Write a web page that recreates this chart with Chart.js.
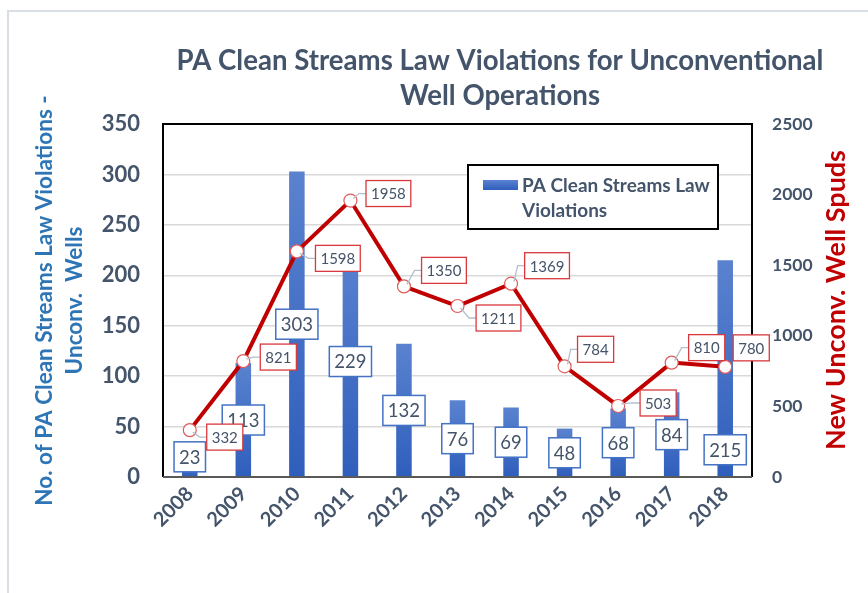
<!DOCTYPE html>
<html><head><meta charset="utf-8">
<script src="https://cdn.jsdelivr.net/npm/chart.js@4"></script>
<style>html,body{margin:0;padding:0;background:#fff;overflow:hidden}canvas{display:block}</style>
</head><body>
<canvas id="c" width="868" height="593"></canvas>
<script>
// ---- data ----
const years = ['2008','2009','2010','2011','2012','2013','2014','2015','2016','2017','2018'];
const violations = [23,113,303,229,132,76,69,48,68,84,215];
const spuds = [332,821,1598,1958,1350,1211,1369,784,503,810,780];
const leftTicks = [0,50,100,150,200,250,300,350];
const rightTicks = [0,500,1000,1500,2000,2500];
const titleLines = ['PA Clean Streams Law Violations for Unconventional','Well Operations'];
const leftTitle = ['No. of PA Clean Streams Law Violations -','Unconv.  Wells'];
const rightTitle = 'New Unconv. Well Spuds';
const legendLines = ['PA Clean Streams Law','Violations'];

// ---- styles ----
const SLATE = '#44546A';
const BLUE_T = '#2E75B6';
const RED = '#C00000';
const FONT = 'Lato';
// bar label anchor (value units) overrides where Excel labels were moved
const barLabelAnchor = {0: 20, 10: 27};
// line label offsets in px from point
const lineLabelOff = [[35,7],[35,-4],[41,7],[38,-7],[40,-16],[41,12],[36,-18],[31,-17],[40,-3],[35,-15],[26,-19]];

function barFill(context){
  const chart = context.chart;
  if (!chart.chartArea || context.type !== 'data') return '#4472C4';
  const y = chart.scales.y;
  const t = y.getPixelForValue(context.raw), b = y.getPixelForValue(0);
  if (!isFinite(t) || !isFinite(b) || Math.abs(b - t) < 1) return '#4472C4';
  const g = chart.ctx.createLinearGradient(0, t, 0, b);
  g.addColorStop(0, '#5A82CF');
  g.addColorStop(1, '#2F5EBC');
  return g;
}

function fitFont(ctx, text, weight, width){
  let s = 30;
  ctx.font = weight + ' ' + s + 'px ' + FONT;
  const w = ctx.measureText(text).width;
  return s * width / w;
}

function box(ctx, cx, cy, w, h, stroke, lw){
  ctx.fillStyle = '#fff';
  ctx.fillRect(cx - w/2, cy - h/2, w, h);
  ctx.strokeStyle = stroke; ctx.lineWidth = lw;
  ctx.strokeRect(cx - w/2, cy - h/2, w, h);
}

const decor = {
  id: 'decor',
  beforeDraw(chart){
    const ctx = chart.ctx;
    ctx.save();
    ctx.fillStyle = '#fff'; ctx.fillRect(0,0,chart.width,chart.height);
    ctx.strokeStyle = '#D9DEE5'; ctx.lineWidth = 2;
    ctx.beginPath(); ctx.moveTo(8, chart.height); ctx.lineTo(8, 11); ctx.lineTo(chart.width, 11); ctx.stroke();
    // title
    const fs = fitFont(ctx, titleLines[0], 'bold', 647);
    ctx.font = 'bold ' + fs.toFixed(2) + 'px ' + FONT;
    ctx.fillStyle = SLATE; ctx.textAlign = 'center'; ctx.textBaseline = 'middle';
    ctx.fillText(titleLines[0], 500, 61);
    ctx.fillText(titleLines[1], 500, 96);
    // right axis title
    ctx.translate(836, 300); ctx.rotate(-Math.PI/2);
    const rfs = fitFont(ctx, rightTitle, 'bold', 300);
    ctx.font = 'bold ' + rfs.toFixed(2) + 'px ' + FONT; ctx.fillStyle = RED;
    ctx.fillText(rightTitle, 0, 0);
    ctx.restore();
  },
  afterDatasetsDraw(chart){
    const ctx = chart.ctx, a = chart.chartArea;
    ctx.save();
    // plot border
    ctx.lineWidth = 2;
    ctx.strokeStyle = '#000';
    ctx.beginPath(); ctx.moveTo(a.left, a.bottom); ctx.lineTo(a.left, a.top); ctx.lineTo(a.right, a.top); ctx.lineTo(a.right, a.bottom); ctx.stroke();
    ctx.strokeStyle = '#595959';
    ctx.beginPath(); ctx.moveTo(a.left, a.bottom); ctx.lineTo(a.right, a.bottom); ctx.stroke();

    // legend
    box(ctx, 593, 197, 250, 64, '#000', 2);
    const lg = ctx.createLinearGradient(0,180,0,190);
    lg.addColorStop(0,'#5A82CF'); lg.addColorStop(1,'#2F5EBC');
    ctx.fillStyle = lg; ctx.fillRect(483, 180, 35, 10);
    const lfs = fitFont(ctx, legendLines[0], 'bold', 188);
    ctx.font = 'bold ' + lfs.toFixed(2) + 'px ' + FONT;
    ctx.fillStyle = SLATE; ctx.textAlign = 'left'; ctx.textBaseline = 'middle';
    ctx.fillText(legendLines[0], 522, 186);
    ctx.fillText(legendLines[1], 522, 211);

    // bar labels
    const ys = chart.scales.y, xs = chart.scales.x, y1 = chart.scales.y1;
    ctx.font = '18.5px ' + FONT; ctx.textAlign = 'center';
    violations.forEach((v, i) => {
      const cx = xs.getPixelForValue(i);
      const av = (i in barLabelAnchor) ? barLabelAnchor[i] : v / 2;
      const cy = ys.getPixelForValue(av);
      const t = String(v);
      const w = ctx.measureText(t).width + 10;
      box(ctx, cx, cy, w, 30, '#4472C4', 1.5);
      ctx.fillStyle = SLATE; ctx.fillText(t, cx, cy + 1);
    });

    // line labels with leader lines
    ctx.font = '15px ' + FONT;
    spuds.forEach((v, i) => {
      const px = xs.getPixelForValue(i), py = y1.getPixelForValue(v);
      const [dx, dy] = lineLabelOff[i];
      const cx = px + dx, cy = py + dy;
      const t = String(v);
      const w = ctx.measureText(t).width + 10;
      const bx = cx - w/2;
      if (bx - px > 12) {
        ctx.strokeStyle = '#B4BFCC'; ctx.lineWidth = 1.3;
        ctx.beginPath(); ctx.moveTo(px + 3, py + (cy > py ? 2 : -2));
        ctx.lineTo(bx - 7, cy); ctx.lineTo(bx, cy); ctx.stroke();
      }
      box(ctx, cx, cy, w, 26, '#D9393C', 1.3);
      ctx.fillStyle = SLATE; ctx.fillText(t, cx, cy + 1);
    });
    ctx.restore();
  }
};

new Chart(document.getElementById('c'), {
  data: {
    labels: years,
    datasets: [
      { type: 'line', label: 'New Unconv. Well Spuds', data: spuds, yAxisID: 'y1', order: 0,
        borderColor: RED, borderWidth: 4, tension: 0,
        pointRadius: 6.5, pointBackgroundColor: '#fff', pointBorderColor: '#E05A5A', pointBorderWidth: 1.2 },
      { type: 'bar', label: 'PA Clean Streams Law Violations', data: violations, yAxisID: 'y', order: 1,
        backgroundColor: barFill, borderWidth: 0, barPercentage: 0.29, categoryPercentage: 1 }
    ]
  },
  options: {
    responsive: false, animation: false, devicePixelRatio: 1,
    layout: { padding: { top: 124, left: 0, right: 0, bottom: 0 } },
    plugins: { legend: { display: false }, tooltip: { enabled: false }, title: { display: false } },
    scales: {
      x: {
        offset: true,
        grid: { display: false, drawTicks: false }, border: { display: false },
        ticks: { autoSkip: false, minRotation: 45, maxRotation: 45, padding: 5, color: SLATE,
                 font: { family: FONT, weight: 'bold', size: 20 } },
        afterFit(s){ s.height = 116; }
      },
      y: {
        position: 'left', min: 0, max: 350,
        afterBuildTicks(s){ s.ticks = leftTicks.map(v => ({ value: v })); },
        grid: { color: '#D9D9D9', lineWidth: 1.5, drawTicks: false }, border: { display: false },
        ticks: { padding: 23, color: SLATE, font: { family: FONT, weight: 'bold', size: 22 }, callback: v => String(v) },
        title: { display: true, text: leftTitle, color: BLUE_T, padding: { top: 30, bottom: 0 },
                 font: { family: FONT, weight: 'bold', size: 22.5, lineHeight: 30/22.5 } },
        afterFit(s){ s.width = 163; }
      },
      y1: {
        position: 'right', min: 0, max: 2500,
        afterBuildTicks(s){ s.ticks = rightTicks.map(v => ({ value: v })); },
        grid: { display: false, drawTicks: false }, border: { display: false },
        ticks: { padding: 20, color: SLATE, font: { family: FONT, weight: 'bold', size: 17.5 }, callback: v => String(v) },
        afterFit(s){ s.width = 116; }
      }
    }
  },
  plugins: [decor]
});
</script>
</body></html>
